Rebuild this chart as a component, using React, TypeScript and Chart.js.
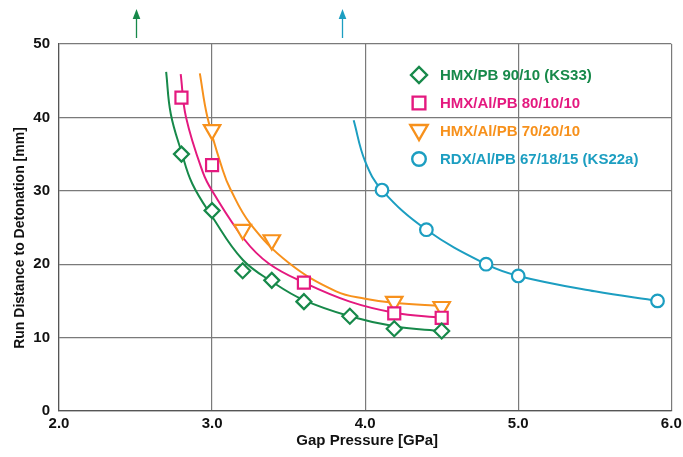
import React, { useEffect, useRef } from "react";
import { Chart, registerables } from "chart.js";
import { drawPoint } from "chart.js/helpers";

Chart.register(...registerables);

const W = 683;
const H = 457;

// Series names / colours
const seriesLabels = [
  "HMX/PB 90/10 (KS33)",
  "HMX/Al/PB 80/10/10",
  "HMX/Al/PB 70/20/10",
  "RDX/Al/PB 67/18/15 (KS22a)",
];
const seriesColors = ["#17894a", "#e4197f", "#f7911c", "#1c9ec1"];

// Measured points
const hmxPbX = [2.8, 3.0, 3.2, 3.39, 3.6, 3.9, 4.19, 4.5];
const hmxPbY = [35.0, 27.3, 19.1, 17.8, 14.9, 12.9, 11.2, 10.9];

const hmxAl10X = [2.8, 3.0, 3.6, 4.19, 4.5];
const hmxAl10Y = [42.7, 33.5, 17.5, 13.3, 12.7];

const hmxAl20X = [3.0, 3.2, 3.39, 4.19, 4.5];
const hmxAl20Y = [38.3, 24.7, 23.3, 14.9, 14.2];

const rdxX = [4.11, 4.4, 4.79, 5.0, 5.91];
const rdxY = [30.1, 24.7, 20.0, 18.4, 15.0];

// Fitted curves
const fitPbX = [2.7, 2.73, 2.8, 2.87, 3.0, 3.2, 3.4, 3.6, 3.9, 4.2, 4.5];
const fitPbY = [46.2, 40.5, 35.3, 31.0, 26.5, 20.6, 17.5, 15.1, 12.9, 11.5, 10.9];

const fitAl10X = [2.795, 2.83, 2.94, 3.0, 3.21, 3.37, 3.6, 3.9, 4.19, 4.5];
const fitAl10Y = [45.9, 40.0, 32.5, 30.0, 23.4, 20.1, 17.5, 14.9, 13.4, 12.7];

const fitAl20X = [2.92, 2.97, 3.07, 3.12, 3.25, 3.5, 3.81, 4.0, 4.2, 4.5];
const fitAl20Y = [46.0, 40.0, 32.8, 30.2, 25.5, 20.2, 16.3, 15.3, 14.7, 14.3];

const fitRdxX = [3.925, 4.0, 4.11, 4.4, 4.79, 5.0, 5.5, 5.91];
const fitRdxY = [39.6, 34.0, 30.1, 24.7, 20.0, 18.4, 16.3, 15.0];

// Axis ticks
const xTicks = [2, 3, 4, 5, 6];
const yTicks = [0, 10, 20, 30, 40, 50];

// Arrows above the plot (x positions, colours)
const arrowX = [2.5, 3.85];
const arrowColors = ["#17894a", "#1c9ec1"];

const xTitle = "Gap Pressure [GPa]";
const yTitle = "Run Distance to Detonation [mm]";

const FONT = '"Liberation Sans", Arial, sans-serif';

const pointStyles: any[] = ["rectRot", "rect", "triangle", "circle"];
const pointRadii = [7.5, 8.5, 9.5, 6.3];
const pointRotations = [0, 0, 180, 0];

const zip = (xs: number[], ys: number[]) => xs.map((x, i) => ({ x, y: ys[i] }));

const pointSets = [
  zip(hmxPbX, hmxPbY),
  zip(hmxAl10X, hmxAl10Y),
  zip(hmxAl20X, hmxAl20Y),
  zip(rdxX, rdxY),
];
const fitSets = [
  zip(fitPbX, fitPbY),
  zip(fitAl10X, fitAl10Y),
  zip(fitAl20X, fitAl20Y),
  zip(fitRdxX, fitRdxY),
];

const extrasPlugin = {
  id: "extras",
  afterDraw(chart: any) {
    const { ctx, chartArea, scales } = chart;
    ctx.save();
    // arrows
    arrowX.forEach((v, i) => {
      const x = Math.round(scales.x.getPixelForValue(v)) + 0.5;
      ctx.strokeStyle = arrowColors[i];
      ctx.fillStyle = arrowColors[i];
      ctx.lineWidth = 1.3;
      ctx.beginPath();
      ctx.moveTo(x, 38);
      ctx.lineTo(x, 16);
      ctx.stroke();
      ctx.beginPath();
      ctx.moveTo(x, 9);
      ctx.lineTo(x - 3.8, 19);
      ctx.lineTo(x + 3.8, 19);
      ctx.closePath();
      ctx.fill();
    });
    // axis titles
    ctx.fillStyle = "#111";
    ctx.font = `bold 15px ${FONT}`;
    ctx.textAlign = "center";
    ctx.textBaseline = "middle";
    ctx.fillText(xTitle, (chartArea.left + chartArea.right) / 2 + 2, 441);
    ctx.save();
    ctx.translate(20, 238);
    ctx.rotate(-Math.PI / 2);
    ctx.font = `bold 14px ${FONT}`;
    ctx.fillText(yTitle, 0, 0);
    ctx.restore();
    // legend
    const lx = 419;
    const tx = 440;
    const rows = [75, 103, 131, 159];
    seriesLabels.forEach((label, i) => {
      ctx.strokeStyle = seriesColors[i];
      ctx.fillStyle = "#fff";
      ctx.lineWidth = 2.4;
      drawPoint(
        ctx,
        {
          pointStyle: pointStyles[i],
          radius: pointRadii[i] + 0.5,
          rotation: pointRotations[i],
          borderWidth: 2.4,
        } as any,
        lx,
        rows[i] + (i === 2 ? -1 : 0)
      );
      ctx.fillStyle = seriesColors[i];
      ctx.font = `bold 15px ${FONT}`;
      ctx.textAlign = "left";
      ctx.textBaseline = "middle";
      ctx.fillText(label, tx, rows[i] + 1);
    });
    ctx.restore();
  },
};

export default function App() {
  const ref = useRef<HTMLCanvasElement>(null);
  useEffect(() => {
    const canvas = ref.current;
    if (!canvas) return;
    const datasets: any[] = [];
    fitSets.forEach((d, i) => {
      datasets.push({
        label: seriesLabels[i] + " fit",
        data: d,
        showLine: true,
        borderColor: seriesColors[i],
        borderWidth: 2,
        pointRadius: 0,
        tension: 0.4,
        fill: false,
        order: 2,
      });
    });
    pointSets.forEach((d, i) => {
      datasets.push({
        label: seriesLabels[i],
        data: d,
        showLine: false,
        borderColor: seriesColors[i],
        backgroundColor: "#ffffff",
        pointBorderColor: seriesColors[i],
        pointBackgroundColor: "#ffffff",
        pointBorderWidth: 2.2,
        pointStyle: pointStyles[i],
        pointRadius: pointRadii[i],
        pointRotation: pointRotations[i],
        order: 1,
      });
    });
    const gridColor = "#7a7a7a";
    const chart = new Chart(canvas, {
      type: "scatter",
      data: { datasets },
      options: {
        animation: false,
        responsive: false,
        maintainAspectRatio: false,
        layout: { padding: { top: 44, right: 11, left: 0, bottom: 0 } },
        plugins: { legend: { display: false }, tooltip: { enabled: false } },
        scales: {
          x: {
            type: "linear",
            min: 2,
            max: 6,
            afterBuildTicks: (s: any) => {
              s.ticks = xTicks.map((v) => ({ value: v }));
            },
            ticks: {
              callback: (v: any) => Number(v).toFixed(1),
              font: { family: FONT, size: 15, weight: "bold" },
              color: "#111",
              padding: 4,
              maxRotation: 0,
            },
            grid: { color: gridColor, lineWidth: 1.2, drawTicks: false },
            border: { color: "#555", width: 1.2 },
            afterFit: (s: any) => {
              s.height = 46;
              s.paddingLeft = 0;
              s.paddingRight = 0;
            },
          },
          y: {
            min: 0,
            max: 50,
            afterBuildTicks: (s: any) => {
              s.ticks = yTicks.map((v) => ({ value: v }));
            },
            ticks: {
              font: { family: FONT, size: 15, weight: "bold" },
              color: "#111",
              padding: 9,
            },
            grid: { color: gridColor, lineWidth: 1.2, drawTicks: false },
            border: { color: "#555", width: 1.2 },
            afterFit: (s: any) => {
              s.width = 59;
              s.paddingTop = 0;
              s.paddingBottom = 0;
            },
          },
        },
      } as any,
      plugins: [extrasPlugin],
    });
    return () => chart.destroy();
  }, []);
  return (
    <div style={{ position: "absolute", left: 0, top: 0, width: W, height: H, background: "#fff" }}>
      <canvas ref={ref} width={W} height={H} style={{ width: W, height: H, display: "block" }} />
    </div>
  );
}
